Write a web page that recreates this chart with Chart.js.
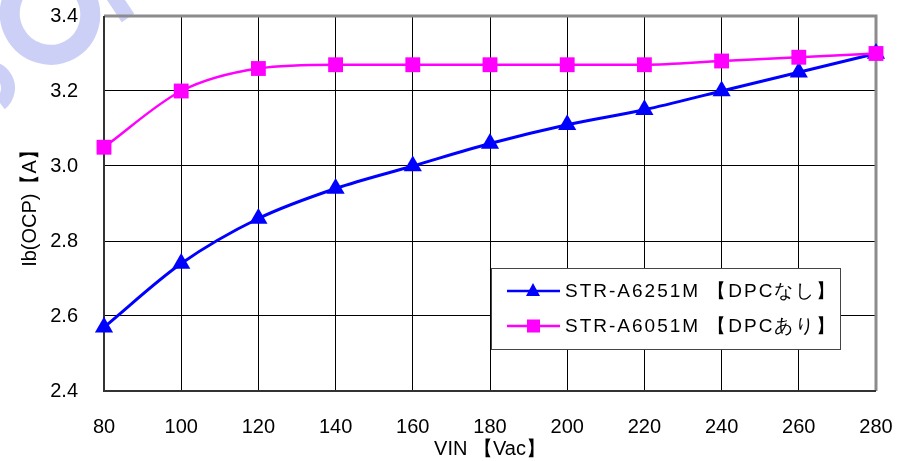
<!DOCTYPE html>
<html><head><meta charset="utf-8">
<script src="https://cdn.jsdelivr.net/npm/chart.js@4/dist/chart.umd.min.js"></script>
<style>html,body{margin:0;padding:0;background:#fff}#wrap{width:901px;height:461px}</style>
</head><body><div id="wrap"><canvas id="c" width="901" height="461"></canvas></div>
<script>
const vin = [80,100,120,140,160,180,200,220,240,260,280];
const seriesA = [2.57,2.74,2.86,2.94,3.00,3.06,3.11,3.15,3.20,3.25,3.30];
const seriesB = [3.05,3.20,3.26,3.27,3.27,3.27,3.27,3.27,3.28,3.29,3.30];
const seriesNames = ['STR-A6251M 【DPCなし】','STR-A6051M 【DPCあり】'];
const xTitle = 'VIN 【Vac】';
const yTitle = 'Ib(OCP)【A】';
const FONT = '"Liberation Sans", Arial, sans-serif';

const watermark = {
  id:'watermark',
  beforeDraw(chart){
    const ctx = chart.ctx;
    ctx.save();
    ctx.strokeStyle='#cdd0f6'; ctx.lineWidth=20; ctx.lineCap='butt';
    ctx.beginPath(); ctx.ellipse(50,14,40,41,-0.5,0,Math.PI*2); ctx.stroke();
    ctx.lineWidth=15;
    ctx.beginPath(); ctx.moveTo(112,-6); ctx.lineTo(128,18); ctx.stroke();
    ctx.lineWidth=14;
    ctx.beginPath(); ctx.arc(-12,88,20,-1.4,0.9); ctx.stroke();
    ctx.restore();
  }
};

const frame = {
  id:'frame',
  beforeDatasetsDraw(chart){
    const {ctx, chartArea:a} = chart;
    ctx.save();
    ctx.strokeStyle='#8c8c8c'; ctx.lineWidth=3;
    ctx.beginPath(); ctx.moveTo(a.left, a.top); ctx.lineTo(a.right, a.top); ctx.lineTo(a.right, a.bottom); ctx.stroke();
    ctx.strokeStyle='#333'; ctx.lineWidth=2;
    ctx.beginPath(); ctx.moveTo(a.left, a.top); ctx.lineTo(a.left, a.bottom); ctx.lineTo(a.right, a.bottom); ctx.stroke();
    ctx.restore();
  },
  afterDraw(chart){
    const ctx = chart.ctx;
    ctx.save();
    const bx=491, by=268, bw=349, bh=81;
    ctx.fillStyle='#fff'; ctx.fillRect(bx,by,bw,bh);
    ctx.strokeStyle='#444'; ctx.lineWidth=1; ctx.strokeRect(bx+0.5,by+0.5,bw,bh);
    ctx.font = '19px '+FONT; ctx.textBaseline='middle'; ctx.fillStyle='#000';
    try{ ctx.letterSpacing='2px'; }catch(e){}
    chart.data.datasets.forEach((ds,i)=>{
      const y = by + 23 + i*35;
      ctx.strokeStyle=ds.borderColor; ctx.lineWidth=2.5;
      ctx.beginPath(); ctx.moveTo(507,y); ctx.lineTo(560,y); ctx.stroke();
      ctx.fillStyle=ds.backgroundColor;
      if(ds.pointStyle==='triangle'){
        ctx.beginPath(); ctx.moveTo(533,y-8); ctx.lineTo(540,y+5); ctx.lineTo(526,y+5); ctx.closePath(); ctx.fill();
      } else {
        ctx.fillRect(527,y-6.5,13,13);
      }
      ctx.fillStyle='#000';
      ctx.fillText(ds.label, 565, y+1);
    });
    ctx.restore();
  }
};

new Chart(document.getElementById('c'), {
  type:'line',
  data:{
    datasets:[
      {label:seriesNames[0], data:vin.map((x,i)=>({x, y:seriesA[i]})), borderColor:'#0000ff', backgroundColor:'#0000ff', order:1,
       borderWidth:3, pointStyle:'triangle', pointRadius:10.5, pointBorderWidth:0, tension:0.4, cubicInterpolationMode:'monotone', clip:false},
      {label:seriesNames[1], data:vin.map((x,i)=>({x, y:seriesB[i]})), borderColor:'#ff00ff', backgroundColor:'#ff00ff', order:0,
       borderWidth:2.5, pointStyle:'rect', pointRadius:10.5, pointBorderWidth:0, tension:0.4, cubicInterpolationMode:'monotone', clip:false}
    ]
  },
  options:{
    responsive:false, animation:false,
    layout:{padding:{top:16,right:25,left:0,bottom:0}},
    plugins:{legend:{display:false}, tooltip:{enabled:false}},
    scales:{
      x:{type:'linear', min:80, max:280,
         ticks:{stepSize:20, color:'#000', font:{family:FONT,size:20}, padding:24},
         grid:{color:'#000', lineWidth:1, drawTicks:false},
         border:{display:false},
         title:{display:true, text:xTitle, color:'#000', font:{family:FONT,size:20}, padding:{top:0,bottom:0}},
         afterFit(s){ s.height = 70; s.paddingLeft = 0; s.paddingRight = 0; }},
      y:{min:2.4, max:3.4,
         ticks:{stepSize:0.2, color:'#000', font:{family:FONT,size:20}, padding:26, callback:v=>v.toFixed(1)},
         grid:{color:'#000', lineWidth:1, drawTicks:false},
         border:{display:false},
         title:{display:true, text:yTitle, color:'#000', font:{family:FONT,size:20}, padding:{top:18,bottom:0}},
         afterFit(s){ s.width = 104; s.paddingTop = 0; s.paddingBottom = 0; }}
    }
  },
  plugins:[watermark, frame]
});
</script></body></html>
